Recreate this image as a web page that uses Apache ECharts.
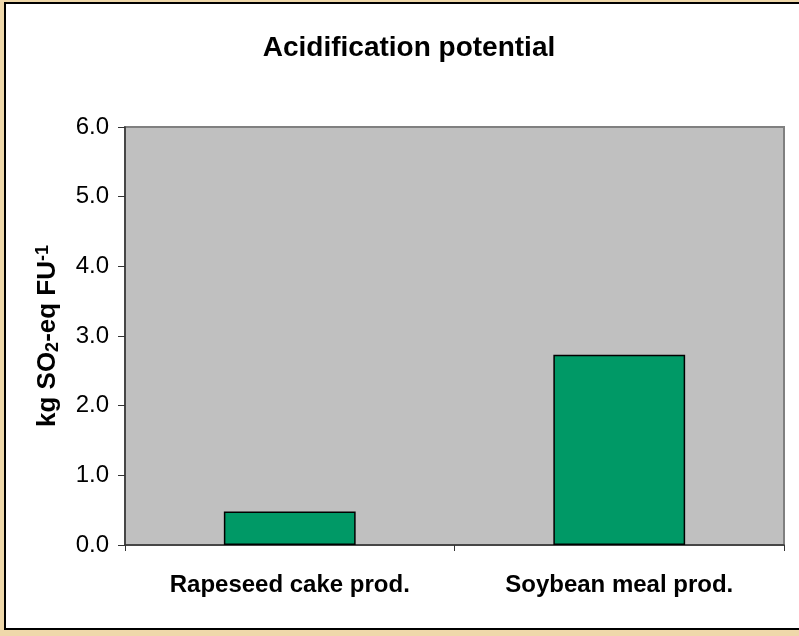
<!DOCTYPE html>
<html>
<head>
<meta charset="utf-8">
<script src="https://cdn.jsdelivr.net/npm/echarts@6/dist/echarts.min.js"></script>
<style>
html,body{margin:0;padding:0;background:#EFD8AA;}
#chart{width:799px;height:636px;}
</style>
</head>
<body>
<div id="chart"></div>
<script>
var categories = ['Rapeseed cake prod.', 'Soybean meal prod.'];
var values = [0.48, 2.73];
var yTicks = [0, 1, 2, 3, 4, 5, 6];
var titleText = 'Acidification potential';

var chart = echarts.init(document.getElementById('chart'), null, {renderer: 'canvas'});
var font = '"Liberation Sans", Arial, sans-serif';
chart.setOption({
  backgroundColor: '#EFD8AA',
  animation: false,
  textStyle: {fontFamily: font},
  graphic: [{
    type: 'rect', z: -10, silent: true,
    shape: {x: 5, y: 3, width: 800, height: 626},
    style: {fill: '#ffffff', stroke: '#000000', lineWidth: 2}
  }],
  title: {
    text: titleText, left: 404, top: 29, textAlign: 'center',
    textStyle: {fontFamily: font, fontSize: 28, fontWeight: 'bold', color: '#000'}
  },
  grid: {
    left: 125, top: 127, right: 15, bottom: 91,
    show: true, backgroundColor: '#C0C0C0', borderColor: '#808080', borderWidth: 2
  },
  xAxis: {
    type: 'category', data: categories, boundaryGap: true,
    axisLine: {show: true, lineStyle: {color: '#333', width: 1.5}},
    axisTick: {show: true, length: 6, alignWithLabel: false, lineStyle: {color: '#333'}},
    axisLabel: {margin: 28, fontFamily: font, fontSize: 24, fontWeight: 'bold', color: '#000'},
    splitLine: {show: false}
  },
  yAxis: {
    type: 'value', min: yTicks[0], max: yTicks[yTicks.length - 1], interval: 1,
    name: '{b|kg SO}{s|2}{b|-eq FU}{p|-1}',
    nameLocation: 'middle', nameRotate: 90, nameGap: 63,
    nameTextStyle: {
      rich: {
        b: {fontFamily: font, fontSize: 26, fontWeight: 'bold', color: '#000'},
        s: {fontFamily: font, fontSize: 18, fontWeight: 'bold', color: '#000', verticalAlign: 'bottom', padding: [10, 0, 0, 0]},
        p: {fontFamily: font, fontSize: 18, fontWeight: 'bold', color: '#000', verticalAlign: 'top', padding: [0, 0, 10, 0]}
      }
    },
    axisLine: {show: true, lineStyle: {color: '#333', width: 1.5}},
    axisTick: {show: true, length: 7, lineStyle: {color: '#333'}},
    axisLabel: {margin: 16, fontFamily: font, fontSize: 24, color: '#000',
      formatter: function (v) { return v.toFixed(1); }},
    splitLine: {show: false}
  },
  series: [{
    type: 'bar', data: values, barWidth: '40%',
    itemStyle: {color: '#009966', borderColor: '#000', borderWidth: 1.5}
  }]
});
</script>
</body>
</html>
